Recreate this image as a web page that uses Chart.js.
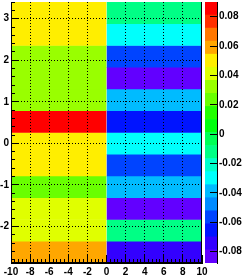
<!DOCTYPE html>
<html>
<head>
<meta charset="utf-8">
<script src="https://cdn.jsdelivr.net/npm/chart.js@4.4.0/dist/chart.umd.min.js"></script>
<style>
  html, body { margin: 0; padding: 0; background: #fff; }
  #wrap { position: relative; width: 243px; height: 276px; }
  #wrap canvas { position: absolute; top: 0; }
  #main { left: 0; }
  #pal { left: 203px; }
</style>
</head>
<body>
<div id="wrap">
  <canvas id="main" width="243" height="276"></canvas>
  <canvas id="pal" width="40" height="276"></canvas>
</div>
<script>
// y bin centres (bottom to top), bins are pi/6 wide
const yCenters = [-2.618, -2.094, -1.571, -1.047, -0.524, 0, 0.524, 1.047, 1.571, 2.094, 2.618, 3.142];
const yRange = [-2.880, 3.403];

// the two x bins
const xLeftBin = [-10, 0];
const xRightBin = [0, 10];

// cell contents, bottom to top
const leftValues = [0.059, 0.041, 0.041, 0.023, 0.050, 0.050, 0.090, 0.032, 0.032, 0.032, 0.050, 0.050];
const rightValues = [-0.075, -0.012, -0.085, -0.039, -0.057, -0.030, -0.066, -0.039, -0.0877, -0.057, -0.030, -0.012];

// axis ticks
const xTicks = [-10, -8, -6, -4, -2, 0, 2, 4, 6, 8, 10];
const yTicks = [-2, -1, 0, 1, 2, 3];
const zTicks = [-0.08, -0.06, -0.04, -0.02, 0, 0.02, 0.04, 0.06, 0.08];
const zTickLabels = ['-0.08', '-0.06', '-0.04', '-0.02', '0', '0.02', '0.04', '0.06', '0.08'];

// old ROOT rainbow palette, 20 contour levels
const palette = [
  'rgb(98,0,255)', 'rgb(51,0,255)', 'rgb(0,20,255)', 'rgb(0,68,255)', 'rgb(0,139,255)',
  'rgb(0,187,255)', 'rgb(0,255,252)', 'rgb(0,255,204)', 'rgb(0,255,133)', 'rgb(0,255,85)',
  'rgb(0,255,14)', 'rgb(34,255,0)', 'rgb(105,255,0)', 'rgb(153,255,0)', 'rgb(224,255,0)',
  'rgb(255,238,0)', 'rgb(255,167,0)', 'rgb(255,119,0)', 'rgb(255,48,0)', 'rgb(255,0,0)',
];

const zMin = Math.min(...leftValues, ...rightValues);
const zMax = Math.max(...leftValues, ...rightValues);
const levelStep = (zMax - zMin) / palette.length;

function colorFor(z) {
  let i = Math.floor((z - zMin) / levelStep);
  if (i < 0) i = 0;
  if (i > palette.length - 1) i = palette.length - 1;
  return palette[i];
}

function column(xEdges, values) {
  return {
    data: yCenters.map(y => ({ x: xEdges, y: y })),
    backgroundColor: values.map(colorFor),
    borderWidth: 0,
    grouped: false,
    barPercentage: 1,
    categoryPercentage: 1,
  };
}

function align(p) {
  return Math.round(p - 0.5) + 0.5;
}

Chart.defaults.font.family = "'Liberation Sans', Arial, sans-serif";
Chart.defaults.font.size = 10;
Chart.defaults.font.weight = 'bold';
Chart.defaults.color = '#000';

// frame right edge plus ROOT style inward ticks
const frameTicks = {
  id: 'frameTicks',
  afterDraw(chart) {
    const { ctx, chartArea: a, scales: { x, y } } = chart;
    ctx.save();
    ctx.strokeStyle = '#000';
    ctx.lineWidth = 1;
    ctx.beginPath();
    ctx.moveTo(a.right - 0.5, a.top);
    ctx.lineTo(a.right - 0.5, a.bottom);
    ctx.moveTo(a.left + 0.5, a.top);
    ctx.lineTo(a.left + 0.5, a.bottom);
    ctx.moveTo(a.left, a.bottom - 0.5);
    ctx.lineTo(a.right, a.bottom - 0.5);
    for (let i = 0; i <= 50; i++) {
      const v = -10 + i * 0.4;
      const px = align(x.getPixelForValue(v));
      const len = i % 5 === 0 ? 8 : 4;
      ctx.moveTo(px, a.bottom);
      ctx.lineTo(px, a.bottom - len);
    }
    for (let i = -14; i <= 17; i++) {
      const py = align(y.getPixelForValue(i * 0.2));
      const len = i % 5 === 0 ? 7 : 4;
      ctx.moveTo(a.left, py);
      ctx.lineTo(a.left + len, py);
    }
    ctx.stroke();
    ctx.restore();
  },
};

const paletteTicks = {
  id: 'paletteTicks',
  afterDraw(chart) {
    const { ctx, chartArea: a, scales: { y } } = chart;
    ctx.save();
    ctx.strokeStyle = '#000';
    ctx.lineWidth = 1;
    ctx.beginPath();
    zTicks.forEach(v => {
      const py = align(y.getPixelForValue(v));
      ctx.moveTo(a.right - 7, py);
      ctx.lineTo(a.right, py);
    });
    ctx.moveTo(a.right + 0.5, a.top);
    ctx.lineTo(a.right + 0.5, a.bottom);
    ctx.stroke();
    ctx.restore();
  },
};

new Chart(document.getElementById('main'), {
  type: 'bar',
  data: {
    datasets: [column(xLeftBin, leftValues), column(xRightBin, rightValues)],
  },
  options: {
    indexAxis: 'y',
    responsive: false,
    animation: false,
    devicePixelRatio: 1,
    layout: { padding: { left: 0, top: 2, right: 41, bottom: 0 } },
    plugins: { legend: { display: false }, tooltip: { enabled: false } },
    scales: {
      x: {
        type: 'linear',
        min: -10,
        max: 10,
        afterBuildTicks: s => { s.ticks = xTicks.map(v => ({ value: v })); },
        afterFit: s => { s.height = 13; s.paddingLeft = 0; s.paddingRight = 0; },
        ticks: { padding: 3, maxRotation: 0, autoSkip: false, callback: v => String(v) },
        grid: {
          z: 1,
          drawTicks: false,
          lineWidth: 1,
          color: ctx => (ctx.tick && (ctx.tick.value === -10 || ctx.tick.value === 0 || ctx.tick.value === 10)) ? 'rgba(0,0,0,0)' : '#000',
        },
        border: { display: true, z: 1, color: '#000', width: 1, dash: [1, 2] },
      },
      y: {
        type: 'linear',
        min: yRange[0],
        max: yRange[1],
        offset: false,
        afterBuildTicks: s => { s.ticks = yTicks.map(v => ({ value: v })); },
        afterFit: s => { s.width = 11; s.paddingTop = 0; s.paddingBottom = 0; },
        ticks: { padding: 2, autoSkip: false, callback: v => String(v) },
        grid: { z: 1, drawTicks: false, offset: false, lineWidth: 1, color: '#000' },
        border: { display: true, z: 1, color: '#000', width: 1, dash: [1, 2] },
      },
    },
  },
  plugins: [frameTicks],
});

new Chart(document.getElementById('pal'), {
  type: 'bar',
  data: {
    labels: [''],
    datasets: palette.map((c, i) => ({
      data: [[zMin + i * levelStep, zMin + (i + 1) * levelStep]],
      backgroundColor: c,
      borderWidth: 0,
      grouped: false,
      barPercentage: 1,
      categoryPercentage: 1,
    })),
  },
  options: {
    responsive: false,
    animation: false,
    devicePixelRatio: 1,
    layout: { padding: { left: 2, top: 2, right: 0, bottom: 13 } },
    plugins: { legend: { display: false }, tooltip: { enabled: false } },
    scales: {
      x: { display: false },
      y: {
        position: 'right',
        min: zMin,
        max: zMax,
        afterBuildTicks: s => { s.ticks = zTicks.map(v => ({ value: v })); },
        afterFit: s => { s.width = 26; s.paddingTop = 0; s.paddingBottom = 0; },
        ticks: { padding: 2, autoSkip: false, callback: (v, i) => zTickLabels[i] },
        grid: { display: false, drawTicks: false },
        border: { display: true, z: 1, color: '#000', width: 1 },
      },
    },
  },
  plugins: [paletteTicks],
});
</script>
</body>
</html>
